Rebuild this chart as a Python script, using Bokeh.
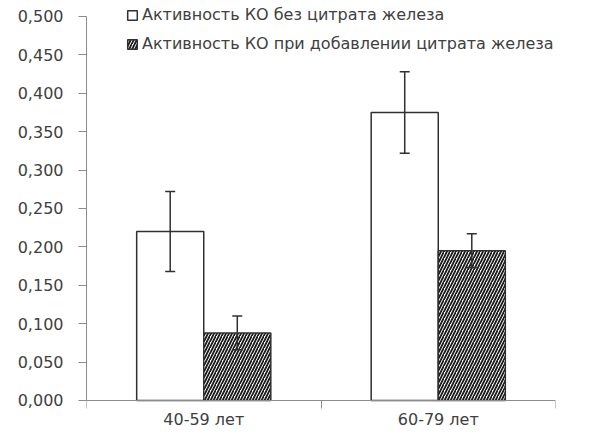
from bokeh.plotting import figure
from bokeh.models import (ColumnDataSource, Range1d, FixedTicker, CustomJSTickFormatter,
                          Whisker, TeeHead, Legend, LegendItem, LabelSet)
from bokeh.core.properties import value
from bokeh.embed import file_html
from bokeh.resources import INLINE

# ---- data ----
categories = ["40-59 лет", "60-79 лет"]
series_names = ["Активность КО без цитрата железа",
                "Активность КО при добавлении цитрата железа"]
values_no_citrate = [0.220, 0.375]
errors_no_citrate = [0.052, 0.053]
values_citrate = [0.088, 0.195]
errors_citrate = [0.022, 0.022]
y_ticks = [0.0, 0.05, 0.1, 0.15, 0.2, 0.25, 0.3, 0.35, 0.4, 0.45, 0.5]

FONT = "DejaVu Sans"
TXT = "#404040"
AX = "#8c8c8c"
EDGE = "#303030"
BW = 0.286

n = len(categories)
centers = [i + 0.5 for i in range(n)]

def make_src(vals, errs, shift):
    return ColumnDataSource(dict(
        x=[c + shift for c in centers],
        top=vals,
        upper=[v + e for v, e in zip(vals, errs)],
        lower=[v - e for v, e in zip(vals, errs)],
    ))

src1 = make_src(values_no_citrate, errors_no_citrate, -BW / 2)
src2 = make_src(values_citrate, errors_citrate, BW / 2)

p = figure(width=574, height=428, output_backend="svg", toolbar_location=None,
           x_range=Range1d(0, n), y_range=Range1d(-0.0365, 0.5208),
           min_border_left=86, min_border_right=19, min_border_top=0,
           min_border_bottom=0)
p.outline_line_color = None
p.grid.visible = False
p.background_fill_color = "white"
p.border_fill_color = "white"

r1 = p.vbar(x="x", top="top", width=BW, source=src1, fill_color="white",
            line_color=EDGE, line_width=1.5)
r2 = p.vbar(x="x", top="top", width=BW, source=src2, fill_color="white",
            line_color=EDGE, line_width=1.5, hatch_pattern="/",
            hatch_color="#1a1a1a", hatch_scale=6, hatch_weight=1.8)

for s in (src1, src2):
    w = Whisker(base="x", upper="upper", lower="lower", source=s,
                line_color=EDGE, line_width=1.5, level="overlay",
                upper_head=TeeHead(size=10, line_color=EDGE, line_width=1.5),
                lower_head=TeeHead(size=10, line_color=EDGE, line_width=1.5))
    p.add_layout(w)

# y axis
ya = p.yaxis[0]
ya.ticker = FixedTicker(ticks=y_ticks, minor_ticks=[])
ya.formatter = CustomJSTickFormatter(code="return tick.toFixed(3).replace('.', ',');")
ya.bounds = (0, 0.5)
ya.axis_line_color = AX
ya.major_tick_line_color = AX
ya.major_tick_out = 8
ya.major_tick_in = 0
ya.major_label_standoff = 15
ya.major_label_text_font = FONT
ya.major_label_text_font_size = "16px"
ya.major_label_text_color = TXT

# x axis drawn at y = 0: tick marks at category boundaries only
xa = p.xaxis[0]
xa.fixed_location = 0
xa.ticker = FixedTicker(ticks=[], minor_ticks=list(range(n + 1)))
xa.axis_line_color = AX
xa.major_tick_line_color = None
xa.major_tick_out = 0
xa.major_tick_in = 0
xa.major_label_standoff = 0
xa.minor_tick_line_color = AX
xa.minor_tick_out = 8
xa.minor_tick_in = 0

# category labels under the axis, at category centres
cat_src = ColumnDataSource(dict(x=centers, y=[0] * n, text=categories))
cat_labels = LabelSet(x="x", y="y", text="text", source=cat_src,
                      x_units="data", y_units="data", y_offset=-19,
                      text_align="center", text_baseline="middle",
                      text_font=value(FONT), text_font_size=value("16px"),
                      text_color=TXT)
p.add_layout(cat_labels)

legend = Legend(items=[LegendItem(label=series_names[0], renderers=[r1]),
                       LegendItem(label=series_names[1], renderers=[r2])],
                location=(40, 375), orientation="vertical",
                glyph_width=12, glyph_height=12, label_standoff=4,
                label_height=14, spacing=10, padding=0, margin=0,
                border_line_color=None, background_fill_alpha=0,
                label_text_font=FONT, label_text_font_size="16px",
                label_text_color=TXT)
p.add_layout(legend)

open("out.html", "w").write(file_html(p, INLINE))
